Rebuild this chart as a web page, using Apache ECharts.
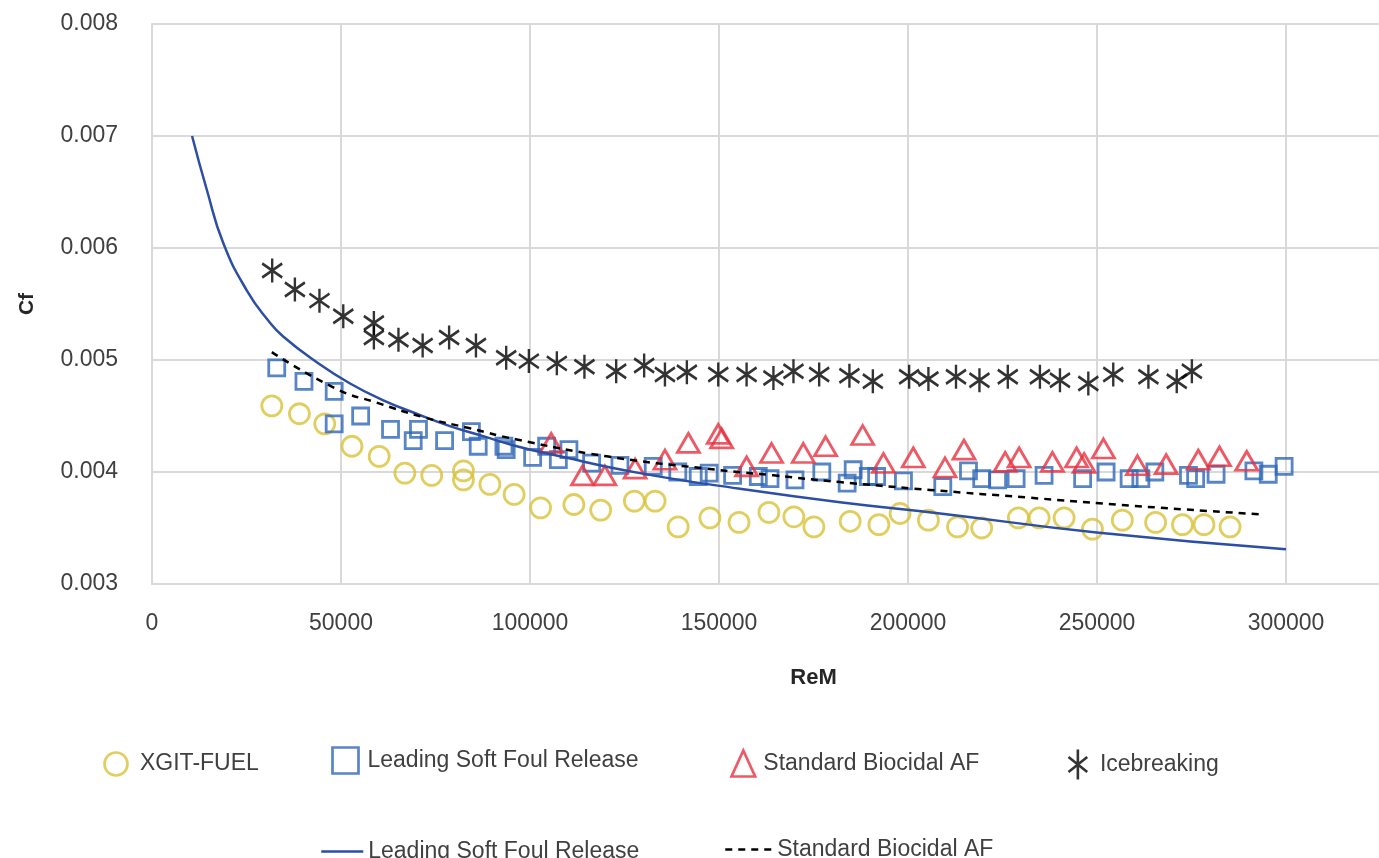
<!DOCTYPE html>
<html>
<head>
<meta charset="utf-8">
<script src="https://cdn.jsdelivr.net/npm/echarts@6/dist/echarts.min.js"></script>
<style>
html,body{margin:0;padding:0;background:#fff;}
#chart{width:1379px;height:858px;}
</style>
</head>
<body>
<div id="chart"></div>
<script>
// ---- Data ----
const xTicks = [0, 50000, 100000, 150000, 200000, 250000, 300000];
const yTicks = [0.003, 0.004, 0.005, 0.006, 0.007, 0.008];

const xgitX = [31700,39000,45700,52900,60100,66900,74000,82400,82400,89400,95800,102800,111600,118700,127600,133100,139200,147600,155300,163200,169800,175100,184700,192300,197900,205400,213100,219500,229200,234700,241300,248800,256700,265500,272600,278300,285200];
const xgitY = [0.00459,0.00452,0.00443,0.00423,0.00414,0.00399,0.00397,0.00401,0.00393,0.00389,0.00380,0.00368,0.00371,0.00366,0.00374,0.00374,0.00351,0.00359,0.00355,0.00364,0.00360,0.00351,0.00356,0.00353,0.00363,0.00357,0.00351,0.00350,0.00359,0.00359,0.00359,0.00349,0.00357,0.00355,0.00353,0.00353,0.00351];

const lsfX = [33000,40200,48200,48200,55200,63100,70500,69100,77400,84500,86300,93100,93700,100700,104400,107500,110300,116300,123800,132600,139100,144500,147400,153600,160400,163500,170100,177200,183900,185500,189500,191700,198800,209200,216000,219500,223700,228600,236000,246200,252400,258500,261600,265300,274200,276100,281500,291500,295300,299500];
const lsfY = [0.00493,0.00481,0.00472,0.00443,0.00450,0.00438,0.00438,0.00428,0.00428,0.00436,0.00423,0.00423,0.00420,0.00413,0.00423,0.00411,0.00420,0.00408,0.00406,0.00405,0.00400,0.00396,0.00399,0.00397,0.00396,0.00394,0.00393,0.00400,0.00390,0.00402,0.00396,0.00396,0.00392,0.00387,0.00401,0.00394,0.00393,0.00394,0.00397,0.00394,0.00400,0.00394,0.00394,0.00400,0.00397,0.00394,0.00398,0.00401,0.00398,0.00405];

const sbX = [105600,113900,119800,127800,135700,141900,149800,150700,157300,163900,172300,178200,188000,193500,201400,209800,214800,225700,229400,238200,244600,246600,251700,260700,268300,276800,282400,289600];
const sbY = [0.00426,0.00397,0.00397,0.00403,0.00411,0.00426,0.00434,0.00430,0.00405,0.00417,0.00417,0.00423,0.00433,0.00408,0.00413,0.00404,0.00420,0.00409,0.00413,0.00409,0.00413,0.00408,0.00421,0.00406,0.00407,0.00411,0.00414,0.00410];

const iceX = [31800,37800,44300,50600,58700,58700,65200,71600,78600,85700,93700,99700,107100,114400,122800,130200,135700,141500,149800,157300,164400,169700,176500,184500,190700,200300,205400,212700,218900,226400,234900,240200,247700,254300,263600,271100,275100];
const iceY = [0.00580,0.00563,0.00553,0.00539,0.00533,0.00520,0.00518,0.00513,0.00520,0.00513,0.00502,0.00499,0.00497,0.00494,0.00490,0.00495,0.00487,0.00489,0.00487,0.00487,0.00484,0.00490,0.00487,0.00486,0.00481,0.00485,0.00483,0.00485,0.00482,0.00485,0.00485,0.00482,0.00479,0.00487,0.00485,0.00481,0.00490];

const lsfFitX = [10600,14500,18900,25100,30800,34700,43600,52400,61200,70000,78800,87600,96500,105300,129100,155600,182000,208500,249900,300000];
const lsfFitY = [0.00700,0.00652,0.00604,0.00562,0.00535,0.00521,0.00498,0.00479,0.00464,0.00452,0.00441,0.00432,0.00423,0.00416,0.00399,0.00385,0.00373,0.00363,0.00346,0.00331];

const sbFitX = [31700,48900,59400,71700,84100,96500,120300,146700,164400,182000,205800,232300,258700,294000];
const sbFitY = [0.00507,0.00474,0.00462,0.00449,0.00439,0.00429,0.00414,0.00403,0.00397,0.00391,0.00384,0.00377,0.00370,0.00362];

const names = ['XGIT-FUEL','Leading Soft Foul Release','Standard Biocidal AF','Icebreaking','Leading Soft Foul Release ','Standard Biocidal AF '];

// ---- helpers ----
const zip = (xs, ys) => xs.map((x, i) => [x, ys[i]]);
const C_GOLD = '#D9C238', C_BLUE = '#2E67B6', C_RED = '#E8313F', C_LINE = '#2C4EA5', C_TEXT = '#404040', C_GRID = '#D9D9D9';
const FONT = "'Liberation Sans', Arial, sans-serif";
const starPath = 'path://M10,0L10,24M1,5L19,19M1,19L19,5';
const starLegend = 'path://M11,0L11,32M1,8L21,24M1,24L21,8';
const squarePath = 'path://M0,0L10,0L10,10L0,10Z';
const triPath = 'path://M5,0L10,11L0,11Z';

const legendText = {color: C_TEXT, fontSize: 23, fontFamily: FONT};
function leg(name, left, top, w, h, extra) {
  return Object.assign({
    data: [name], left: left, top: top, padding: 0,
    itemWidth: w, itemHeight: h, textStyle: legendText,
    selectedMode: false
  }, extra);
}

const option = {
  animation: false,
  backgroundColor: '#fff',
  grid: {left: 152, top: 24, width: 1323, height: 560, containLabel: false, outerBoundsMode: 'none'},
  xAxis: {
    type: 'value', min: xTicks[0], max: 350000, interval: 50000,
    name: 'ReM', nameLocation: 'middle', nameGap: 83,
    nameTextStyle: {fontSize: 22, fontWeight: 'bold', color: '#262626', fontFamily: FONT},
    axisLine: {show: true, lineStyle: {color: C_GRID, width: 2}},
    axisTick: {show: false},
    splitLine: {show: true, lineStyle: {color: C_GRID, width: 2}},
    axisLabel: {color: C_TEXT, fontSize: 23, fontFamily: FONT, margin: 28,
      formatter: v => (xTicks.indexOf(v) >= 0 ? String(v) : '')}
  },
  yAxis: {
    type: 'value', min: yTicks[0], max: yTicks[yTicks.length - 1], interval: 0.001,
    name: 'Cf', nameLocation: 'middle', nameGap: 114, nameRotate: 90,
    nameTextStyle: {fontSize: 21, fontWeight: 'bold', color: '#262626', fontFamily: FONT},
    axisLine: {show: true, lineStyle: {color: C_GRID, width: 2}},
    axisTick: {show: false},
    splitLine: {show: true, lineStyle: {color: C_GRID, width: 2}},
    axisLabel: {color: C_TEXT, fontSize: 23, fontFamily: FONT, margin: 34,
      formatter: v => v.toFixed(3)}
  },
  legend: [
    leg(names[0], 102, 750, 38, 23, {icon: 'circle', itemStyle: {color: 'none', borderColor: C_GOLD, borderWidth: 2.7}}),
    leg(names[1], 330, 745, 34, 26, {icon: squarePath, itemStyle: {color: 'none', borderColor: C_BLUE, borderWidth: 2.7}}),
    leg(names[2], 729, 748, 30, 26, {icon: triPath, itemStyle: {color: 'none', borderColor: C_RED, borderWidth: 2.7}}),
    leg(names[3], 1066, 747, 34, 30, {icon: starLegend, itemStyle: {color: 'none', borderColor: '#000', borderWidth: 2.6}}),
    leg(names[4], 320, 840, 42, 20, {itemStyle: {opacity: 0}, lineStyle: {color: C_LINE, width: 2.5, opacity: 1}}),
    leg(names[5], 724, 838, 47, 20, {itemStyle: {opacity: 0}, lineStyle: {color: '#000', width: 2.5, type: [7, 6], opacity: 1}})
  ],
  series: [
    {name: names[0], type: 'scatter', data: zip(xgitX, xgitY), symbol: 'circle', symbolSize: 20,
      itemStyle: {color: 'none', borderColor: C_GOLD, borderWidth: 2.8}},
    {name: names[1], type: 'scatter', data: zip(lsfX, lsfY), symbol: 'rect', symbolSize: 16,
      itemStyle: {color: 'none', borderColor: C_BLUE, borderWidth: 2.8}},
    {name: names[2], type: 'scatter', data: zip(sbX, sbY), symbol: 'triangle', symbolSize: [22, 19],
      itemStyle: {color: 'none', borderColor: C_RED, borderWidth: 2.8}},
    {name: names[3], type: 'scatter', data: zip(iceX, iceY), symbol: starPath, symbolSize: [20, 24],
      itemStyle: {color: 'none', borderColor: '#000', borderWidth: 2.6}},
    {name: names[4], type: 'line', data: zip(lsfFitX, lsfFitY), showSymbol: false, symbol: 'none',
      smooth: 0.5, lineStyle: {color: C_LINE, width: 2.5}, itemStyle: {color: C_LINE}, z: 5},
    {name: names[5], type: 'line', data: zip(sbFitX, sbFitY), showSymbol: false, symbol: 'none',
      smooth: 0.5, lineStyle: {color: '#000', width: 2.5, type: [7, 6]}, itemStyle: {color: '#000'}, z: 5}
  ]
};

const chart = echarts.init(document.getElementById('chart'), null, {renderer: 'canvas'});
chart.setOption(option);
</script>
</body>
</html>
